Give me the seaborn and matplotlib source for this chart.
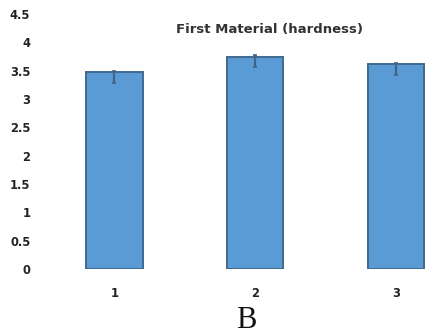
import matplotlib
matplotlib.use("Agg")
import matplotlib.pyplot as plt
import seaborn as sns
import pandas as pd

# Hardness of the first material for three samples
samples = ["1", "2", "3"]
hardness = [3.48, 3.74, 3.62]
err_low = [0.20, 0.18, 0.20]
err_high = [0.02, 0.04, 0.02]
y_ticks = [0, 0.5, 1, 1.5, 2, 2.5, 3, 3.5, 4, 4.5]
y_tick_labels = ["0", "0.5", "1", "1.5", "2", "2.5", "3", "3.5", "4", "4.5"]

df = pd.DataFrame({"sample": samples, "hardness": hardness})

sns.set_theme(style="white")
plt.rcParams["font.family"] = ["DejaVu Sans"]

fig = plt.figure(figsize=(4.42, 3.36), dpi=100)
ax = fig.add_axes([40 / 442, (336 - 269) / 336, 1 - 40 / 442, (269 - 14) / 336])

sns.barplot(data=df, x="sample", y="hardness", ax=ax, color="#5b9bd5",
            saturation=1, width=0.4, edgecolor="#41698f", linewidth=1.4,
            errorbar=None)

ax.errorbar(range(len(samples)), hardness, yerr=[err_low, err_high],
            fmt="none", ecolor="#3f6489", elinewidth=1.6, capsize=1.5,
            capthick=1.2)

ax.set_xlim(-0.528, 2.326)
ax.set_ylim(0, 4.5)
ax.set_yticks(y_ticks)
ax.set_yticklabels(y_tick_labels)
for s in ax.spines.values():
    s.set_visible(False)
ax.set_xlabel("")
ax.set_ylabel("")
ax.tick_params(axis="both", length=0, labelsize=8.3, colors="#222222")
ax.tick_params(axis="y", pad=7)
ax.tick_params(axis="x", pad=13)
for lab in ax.get_xticklabels() + ax.get_yticklabels():
    lab.set_fontweight("bold")

fig.text(270 / 442, 1 - 29 / 336, "First Material (hardness)", ha="center",
         va="center", fontsize=9.5, fontweight="bold", color="#333333")
fig.text(246 / 442, 1 - 320 / 336, "B", ha="center", va="center",
         fontsize=22, family=["Liberation Serif", "DejaVu Serif"], color="#111111")

fig.savefig("out.png", dpi=100)
